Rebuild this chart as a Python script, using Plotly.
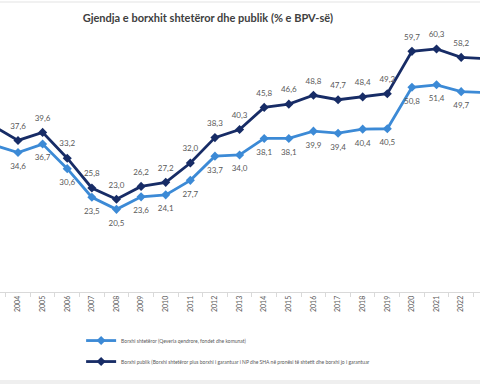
import plotly.graph_objects as go

years = list(range(2003, 2024))
borxhi_shteteror = [36.5, 34.6, 36.7, 30.6, 23.5, 20.5, 23.6, 24.1, 27.7, 33.7, 34.0,
                    38.1, 38.1, 39.9, 39.4, 40.4, 40.5, 50.8, 51.4, 49.7, 49.5]
borxhi_publik = [41.2, 37.6, 39.6, 33.2, 25.8, 23.0, 26.2, 27.2, 32.0, 38.3, 40.3,
                 45.8, 46.6, 48.8, 47.7, 48.4, 49.2, 59.7, 60.3, 58.2, 57.9]
tick_years = list(range(2004, 2023))
name_shteteror = "Borxhi shtetëror (Qeveria qendrore, fondet dhe komunat)"
name_publik = ("Borxhi publik (Borxhi shtetëror plus borxhi i garantuar i NP dhe SHA "
               "në pronësi të shtetit dhe borxhi jo i garantuar")
title = "Gjendja e borxhit shtetëror dhe publik (% e BPV-së)"

light = "#3C8AD6"
dark = "#172C66"
font = "Lato"


def fmt(v):
    return f"{v:.1f}".replace(".", ",")


fig = go.Figure()
fig.add_trace(go.Scatter(x=years, y=borxhi_shteteror, mode="lines+markers", name=name_shteteror,
                         line=dict(color=light, width=2.8), marker=dict(symbol="diamond", size=7),
                         legendgroup="a", cliponaxis=False, hoverinfo="skip"))
fig.add_trace(go.Scatter(x=years, y=borxhi_publik, mode="lines+markers", name=name_publik,
                         line=dict(color=dark, width=2.8), marker=dict(symbol="diamond", size=7),
                         legendgroup="b", cliponaxis=False, hoverinfo="skip"))
# label traces: invisible larger markers push the value labels away from the lines
fig.add_trace(go.Scatter(x=years, y=borxhi_shteteror, mode="markers+text",
                         marker=dict(size=15, color="rgba(0,0,0,0)"),
                         text=[fmt(v) for v in borxhi_shteteror], textposition="bottom center",
                         textfont=dict(size=8, color="#595959", family=font),
                         showlegend=False, cliponaxis=False, hoverinfo="skip"))
fig.add_trace(go.Scatter(x=years, y=borxhi_publik, mode="markers+text",
                         marker=dict(size=14, color="rgba(0,0,0,0)"),
                         text=[fmt(v) for v in borxhi_publik], textposition="top center",
                         textfont=dict(size=8, color="#595959", family=font),
                         showlegend=False, cliponaxis=False, hoverinfo="skip"))

H = 262.0
def py(pix):
    return (292 - pix) / H

fig.update_layout(
    width=480, height=384,
    margin=dict(l=0, r=0, t=30, b=92, autoexpand=False),
    paper_bgcolor="white", plot_bgcolor="white",
    hovermode=False,
    font=dict(family=font, color="#595959"),
    title=dict(text="<b>" + title + "</b>", x=0.433, xanchor="center", y=0.952, yanchor="middle",
               font=dict(size=11, color="#404040", family=font)),
    showlegend=True,
    legend=dict(x=0.169, xanchor="left", y=-0.13, yanchor="top", orientation="v",
                traceorder="grouped", tracegroupgap=2, itemwidth=30,
                font=dict(size=5, color="#595959", family=font), bgcolor="rgba(0,0,0,0)"),
    xaxis=dict(range=[2003.269, 2022.765], tickmode="array", tickvals=tick_years,
               ticktext=[str(y) for y in tick_years], tickangle=-90, ticks="",
               tickfont=dict(size=7, color="#595959", family=font),
               showline=True, linecolor="#D9D9D9", linewidth=1, showgrid=False, zeroline=False,
               minor=dict(tick0=2003.5, dtick=1, ticks="outside", ticklen=4,
                          tickcolor="#D9D9D9", showgrid=False)),
    yaxis=dict(range=[0, 65.0], visible=False, showgrid=False, zeroline=False),
    shapes=[
        dict(type="line", xref="paper", yref="paper", x0=0, x1=1, y0=py(2), y1=py(2),
             line=dict(color="#E3E3E3", width=1)),
        dict(type="rect", xref="paper", yref="paper", x0=0, x1=1, y0=py(384), y1=py(380),
             fillcolor="#EFEFEF", line=dict(width=0)),
    ],
)

fig.write_html("out.html", config={"displayModeBar": False},
               post_script="document.body.style.margin='0';")
